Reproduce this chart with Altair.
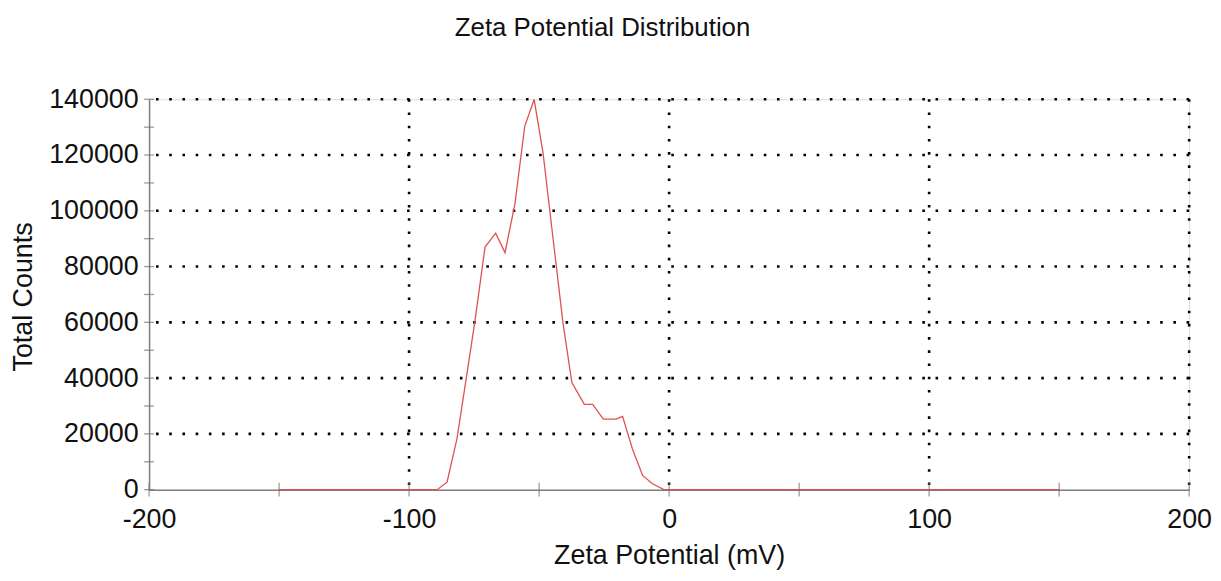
import altair as alt
import pandas as pd

# Data
zeta = [-150, -89.2, -85.4, -81.6, -77.7, -74.6, -70.8, -66.7, -63.1, -59.3,
        -55.5, -51.9, -48.5, -44.7, -40.8, -37.4, -32.6, -29.4, -25.3, -20.4,
        -17.9, -14.1, -10.2, -6.4, -2.0, 150]
counts = [0, 0, 2700, 18200, 41900, 60900, 87000, 92000, 85000, 102500,
          130400, 139900, 120900, 90600, 59700, 38400, 30600, 30600, 25300, 25300,
          26300, 14600, 5100, 2100, 0, 0]

x_grid = [-100, 0, 100, 200]
y_grid = [20000, 40000, 60000, 80000, 100000, 120000, 140000]
x_ticks = [-200, -150, -100, -50, 0, 50, 100, 150, 200]
x_labels = [-200, -100, 0, 100, 200]
y_ticks = [0, 10000, 20000, 30000, 40000, 50000, 60000, 70000,
           80000, 90000, 100000, 110000, 120000, 130000, 140000]
y_labels = [0, 20000, 40000, 60000, 80000, 100000, 120000, 140000]

FONT = "Liberation Sans"
W, H = 1047, 393
FS = 27

xscale = alt.Scale(domain=[-200, 200], nice=False, zero=False)
yscale = alt.Scale(domain=[0, 140000], nice=False)

df = pd.DataFrame({"zeta": zeta, "counts": counts})

xaxis = alt.Axis(values=x_labels, grid=False, ticks=False, domain=True,
                 domainColor="#808080", domainWidth=1.5,
                 labelExpr="datum.value < 0 ? '-' + abs(datum.value) : '' + datum.value",
                 labelFont=FONT, labelFontSize=FS, labelColor="#111111",
                 labelPadding=17, labelFlush=False,
                 title="Zeta Potential (mV)", titleFont=FONT, titleFontSize=FS,
                 titleFontWeight="normal", titleColor="#111111",
                 titleX=W / 2, titleY=74, titleAlign="center",
                 titleBaseline="alphabetic")
yaxis = alt.Axis(values=y_labels, grid=False, ticks=False, domain=True,
                 domainColor="#808080", domainWidth=1.5, format="d",
                 labelFont=FONT, labelFontSize=FS, labelColor="#111111",
                 labelPadding=11, labelFlush=False,
                 title="Total Counts", titleFont=FONT, titleFontSize=FS,
                 titleFontWeight="normal", titleColor="#111111",
                 titleX=-126, titleY=H / 2 + 2, titleAngle=-90,
                 titleAlign="center", titleBaseline="middle")

dash = [2.6, 10.7]
vgrid = alt.Chart(pd.DataFrame({"v": x_grid})).mark_rule(
    color="black", strokeWidth=2.6, strokeDash=dash
).encode(x=alt.X("v:Q", scale=xscale, axis=xaxis))
hgrid = alt.Chart(pd.DataFrame({"v": y_grid})).mark_rule(
    color="black", strokeWidth=2.6, strokeDash=dash
).encode(y=alt.Y("v:Q", scale=yscale, axis=yaxis))

xt = alt.Chart(pd.DataFrame({"v": x_ticks, "z": [0] * len(x_ticks)})).mark_tick(
    orient="vertical", size=14, thickness=1.3, color="#707070"
).encode(x=alt.X("v:Q", scale=xscale, axis=xaxis),
         y=alt.Y("z:Q", scale=yscale, axis=yaxis))
yt = alt.Chart(pd.DataFrame({"v": y_ticks, "z": [-200] * len(y_ticks)})).mark_tick(
    orient="horizontal", size=10, thickness=1.3, color="#707070"
).encode(y=alt.Y("v:Q", scale=yscale, axis=yaxis),
         x=alt.X("z:Q", scale=xscale, axis=xaxis))

line = alt.Chart(df).mark_line(color="#e05050", strokeWidth=1.3).encode(
    x=alt.X("zeta:Q", scale=xscale, axis=xaxis),
    y=alt.Y("counts:Q", scale=yscale, axis=yaxis),
)

chart = alt.layer(vgrid, hgrid, line, xt, yt).properties(
    width=W, height=H,
    title=alt.Title("Zeta Potential Distribution", font=FONT, fontSize=26,
                    fontWeight="normal", color="#111111", anchor="middle",
                    dx=-67, offset=45),
    autosize=alt.AutoSizeParams(type="none"),
    padding={"left": 142, "top": 90, "right": 24, "bottom": 80},
).configure_view(stroke=None).configure(background="white")

chart.save("out.html", embed_options={"renderer": "svg", "actions": False})
